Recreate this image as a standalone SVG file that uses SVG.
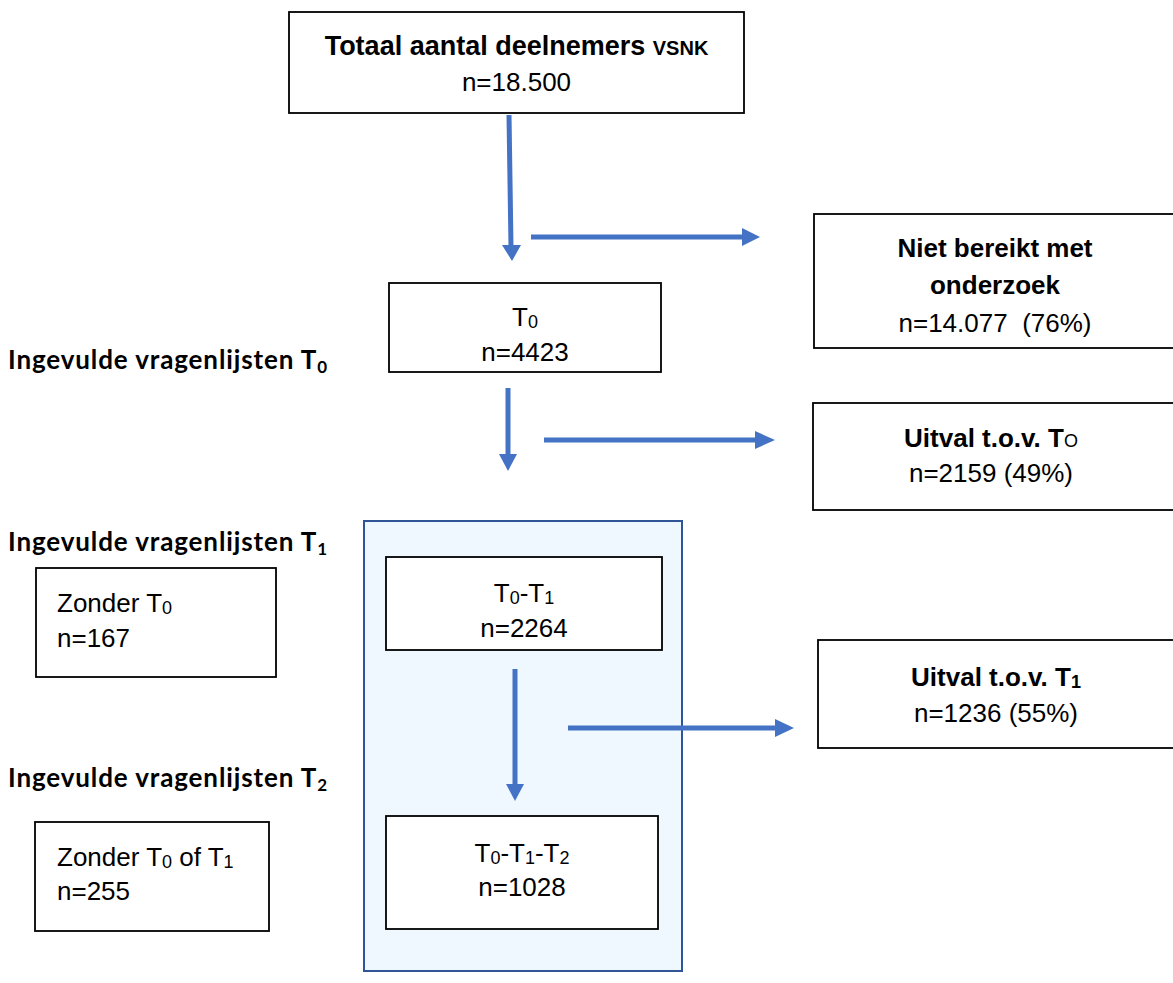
<svg xmlns="http://www.w3.org/2000/svg" width="1173" height="983" viewBox="0 0 1173 983">
<style>
.box{fill:#fff;stroke:#000;stroke-width:1.8}
.t{font-family:"Liberation Sans",Arial,sans-serif;font-size:26px;fill:#000}
.b{font-weight:bold}
.s{font-size:18px}
.lbl{font-family:Lato,"Open Sans",sans-serif;font-size:26px;font-weight:bold;fill:#000}
.ln{stroke:#4472C4;stroke-width:5;fill:none}
.hd{fill:#4472C4}
</style>
<rect x="0" y="0" width="1173" height="983" fill="#fff"/>
<g id="container">
<rect x="364" y="521" width="318" height="450" fill="#EEF8FE" stroke="#2F5597" stroke-width="2"/>
</g>
<g id="labels">
<text class="lbl" x="8" y="369" textLength="319" lengthAdjust="spacing">Ingevulde vragenlijsten T<tspan font-size="17" dy="4">0</tspan></text>
<text class="lbl" x="8" y="551" textLength="319" lengthAdjust="spacing">Ingevulde vragenlijsten T<tspan font-size="17" dy="4">1</tspan></text>
<text class="lbl" x="8" y="787" textLength="319" lengthAdjust="spacing">Ingevulde vragenlijsten T<tspan font-size="17" dy="4">2</tspan></text>
</g>
<g id="n-total">
<rect class="box" x="289" y="12" width="455" height="101"/>
<text class="t b" x="516.5" y="55" text-anchor="middle" style="font-size:27px">Totaal aantal deelnemers <tspan style="font-size:20px">VSNK</tspan></text>
<text class="t" x="516.5" y="91" text-anchor="middle">n=18.500</text>
</g>
<g id="n-nietbereikt">
<rect class="box" x="814" y="214" width="362" height="134"/>
<text class="t b" x="995" y="257" text-anchor="middle">Niet bereikt met</text>
<text class="t b" x="995" y="294" text-anchor="middle">onderzoek</text>
<text class="t" x="995" y="332" text-anchor="middle" xml:space="preserve">n=14.077  (76%)</text>
</g>
<g id="n-t0">
<rect class="box" x="389" y="283" width="272" height="89"/>
<text class="t" x="525" y="326" text-anchor="middle">T<tspan class="s" dy="2">0</tspan></text>
<text class="t" x="525" y="361" text-anchor="middle">n=4423</text>
</g>
<g id="n-uitval-t0">
<rect class="box" x="813" y="403" width="363" height="107"/>
<text class="t b" x="991" y="447" text-anchor="middle">Uitval t.o.v. T<tspan class="s" font-weight="normal">O</tspan></text>
<text class="t" x="991" y="482" text-anchor="middle">n=2159 (49%)</text>
</g>
<g id="n-zonder-t0">
<rect class="box" x="36" y="568" width="240" height="109"/>
<text class="t" x="57" y="612">Zonder T<tspan class="s" dy="2">0</tspan></text>
<text class="t" x="57" y="647">n=167</text>
</g>
<g id="n-t0t1">
<rect class="box" x="386" y="557" width="276" height="93"/>
<text class="t" x="524" y="602" text-anchor="middle">T<tspan class="s" dy="2">0</tspan><tspan dy="-2">-T</tspan><tspan class="s" dy="2">1</tspan></text>
<text class="t" x="524" y="637" text-anchor="middle">n=2264</text>
</g>
<g id="n-uitval-t1">
<rect class="box" x="818" y="640" width="358" height="108"/>
<text class="t b" x="996" y="686" text-anchor="middle">Uitval t.o.v. T<tspan class="s" dy="2">1</tspan></text>
<text class="t" x="996" y="722" text-anchor="middle">n=1236 (55%)</text>
</g>
<g id="n-zonder-t0t1">
<rect class="box" x="35" y="822" width="234" height="109"/>
<text class="t" x="57" y="866">Zonder T<tspan class="s" dy="2">0</tspan><tspan dy="-2"> of T</tspan><tspan class="s" dy="2">1</tspan></text>
<text class="t" x="57" y="900">n=255</text>
</g>
<g id="n-t0t1t2">
<rect class="box" x="386" y="816" width="272" height="113"/>
<text class="t" x="522" y="862" text-anchor="middle">T<tspan class="s" dy="2">0</tspan><tspan dy="-2">-T</tspan><tspan class="s" dy="2">1</tspan><tspan dy="-2">-T</tspan><tspan class="s" dy="2">2</tspan></text>
<text class="t" x="522" y="896" text-anchor="middle">n=1028</text>
</g>
<g id="connectors">
<path class="ln" d="M509,115 L511,247"/>
<polygon class="hd" points="502,245 521,245 512,261"/>
<path class="ln" d="M531,237 L744,237"/>
<polygon class="hd" points="742,228 742,246 760,237"/>
<path class="ln" d="M508,388 L508,456"/>
<polygon class="hd" points="499,454 517,454 508,471"/>
<path class="ln" d="M544,440 L757,440"/>
<polygon class="hd" points="755,431 755,449 775,440"/>
<path class="ln" d="M515,669 L515,786"/>
<polygon class="hd" points="506,784 524,784 515,801"/>
<path class="ln" d="M568,728 L777,728"/>
<polygon class="hd" points="775,719 775,737 794,728"/>
</g>
</svg>
